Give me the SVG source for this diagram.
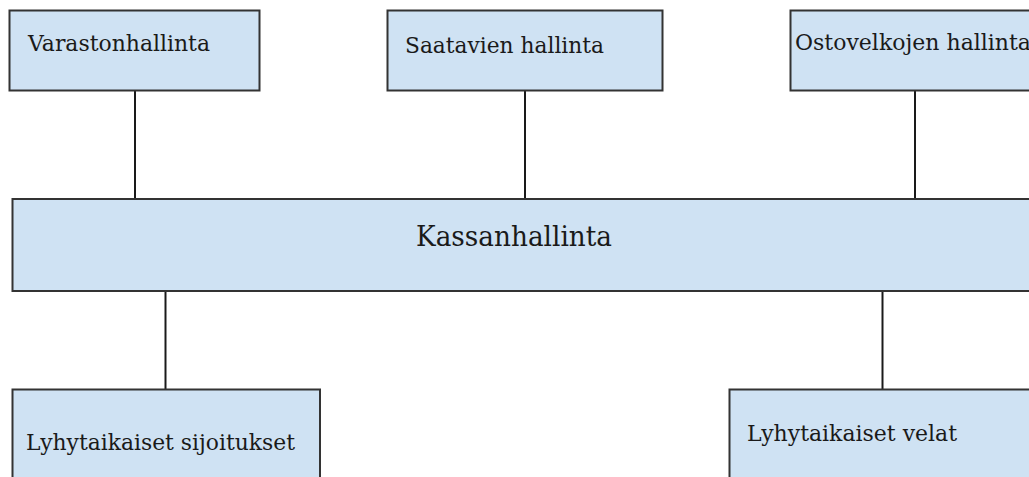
<svg xmlns="http://www.w3.org/2000/svg" width="1029" height="477" viewBox="0 0 1029 477">
<style>
.box{fill:#cfe2f3;stroke:#333333;stroke-width:2}
.lbl{font-family:"DejaVu Serif","Liberation Serif","Times New Roman",serif;font-size:23px;fill:#1a1a1a}
.big{font-size:27.5px}
.conn{stroke:#1a1a1a;stroke-width:2;fill:none}
</style>
<rect width="1029" height="477" fill="#ffffff"/>
<g id="connectors">
<line class="conn" x1="135" y1="91" x2="135" y2="199"/>
<line class="conn" x1="525" y1="91" x2="525" y2="199"/>
<line class="conn" x1="915" y1="91" x2="915" y2="199"/>
<line class="conn" x1="165.5" y1="291" x2="165.5" y2="389"/>
<line class="conn" x1="882.5" y1="291" x2="882.5" y2="389"/>
</g>
<g id="varastonhallinta">
<rect class="box" x="9.5" y="10.5" width="250" height="80"/>
<text class="lbl" x="28" y="51" textLength="182" lengthAdjust="spacingAndGlyphs">Varastonhallinta</text>
</g>
<g id="saatavien">
<rect class="box" x="387.5" y="10.5" width="275" height="80"/>
<text class="lbl" x="405" y="53" textLength="199" lengthAdjust="spacingAndGlyphs">Saatavien hallinta</text>
</g>
<g id="ostovelkojen">
<rect class="box" x="790.5" y="10.5" width="250" height="80"/>
<text class="lbl" x="795" y="50" textLength="236" lengthAdjust="spacingAndGlyphs">Ostovelkojen hallinta</text>
</g>
<g id="kassanhallinta">
<rect class="box" x="12.5" y="199" width="1030" height="92"/>
<text class="lbl big" x="416" y="246" textLength="196" lengthAdjust="spacingAndGlyphs">Kassanhallinta</text>
</g>
<g id="sijoitukset">
<rect class="box" x="12.5" y="389.5" width="307.5" height="100"/>
<text class="lbl" x="26" y="450" textLength="269" lengthAdjust="spacingAndGlyphs">Lyhytaikaiset sijoitukset</text>
</g>
<g id="velat">
<rect class="box" x="729.5" y="389.5" width="320" height="100"/>
<text class="lbl" x="747" y="441" textLength="210" lengthAdjust="spacingAndGlyphs">Lyhytaikaiset velat</text>
</g>
</svg>
